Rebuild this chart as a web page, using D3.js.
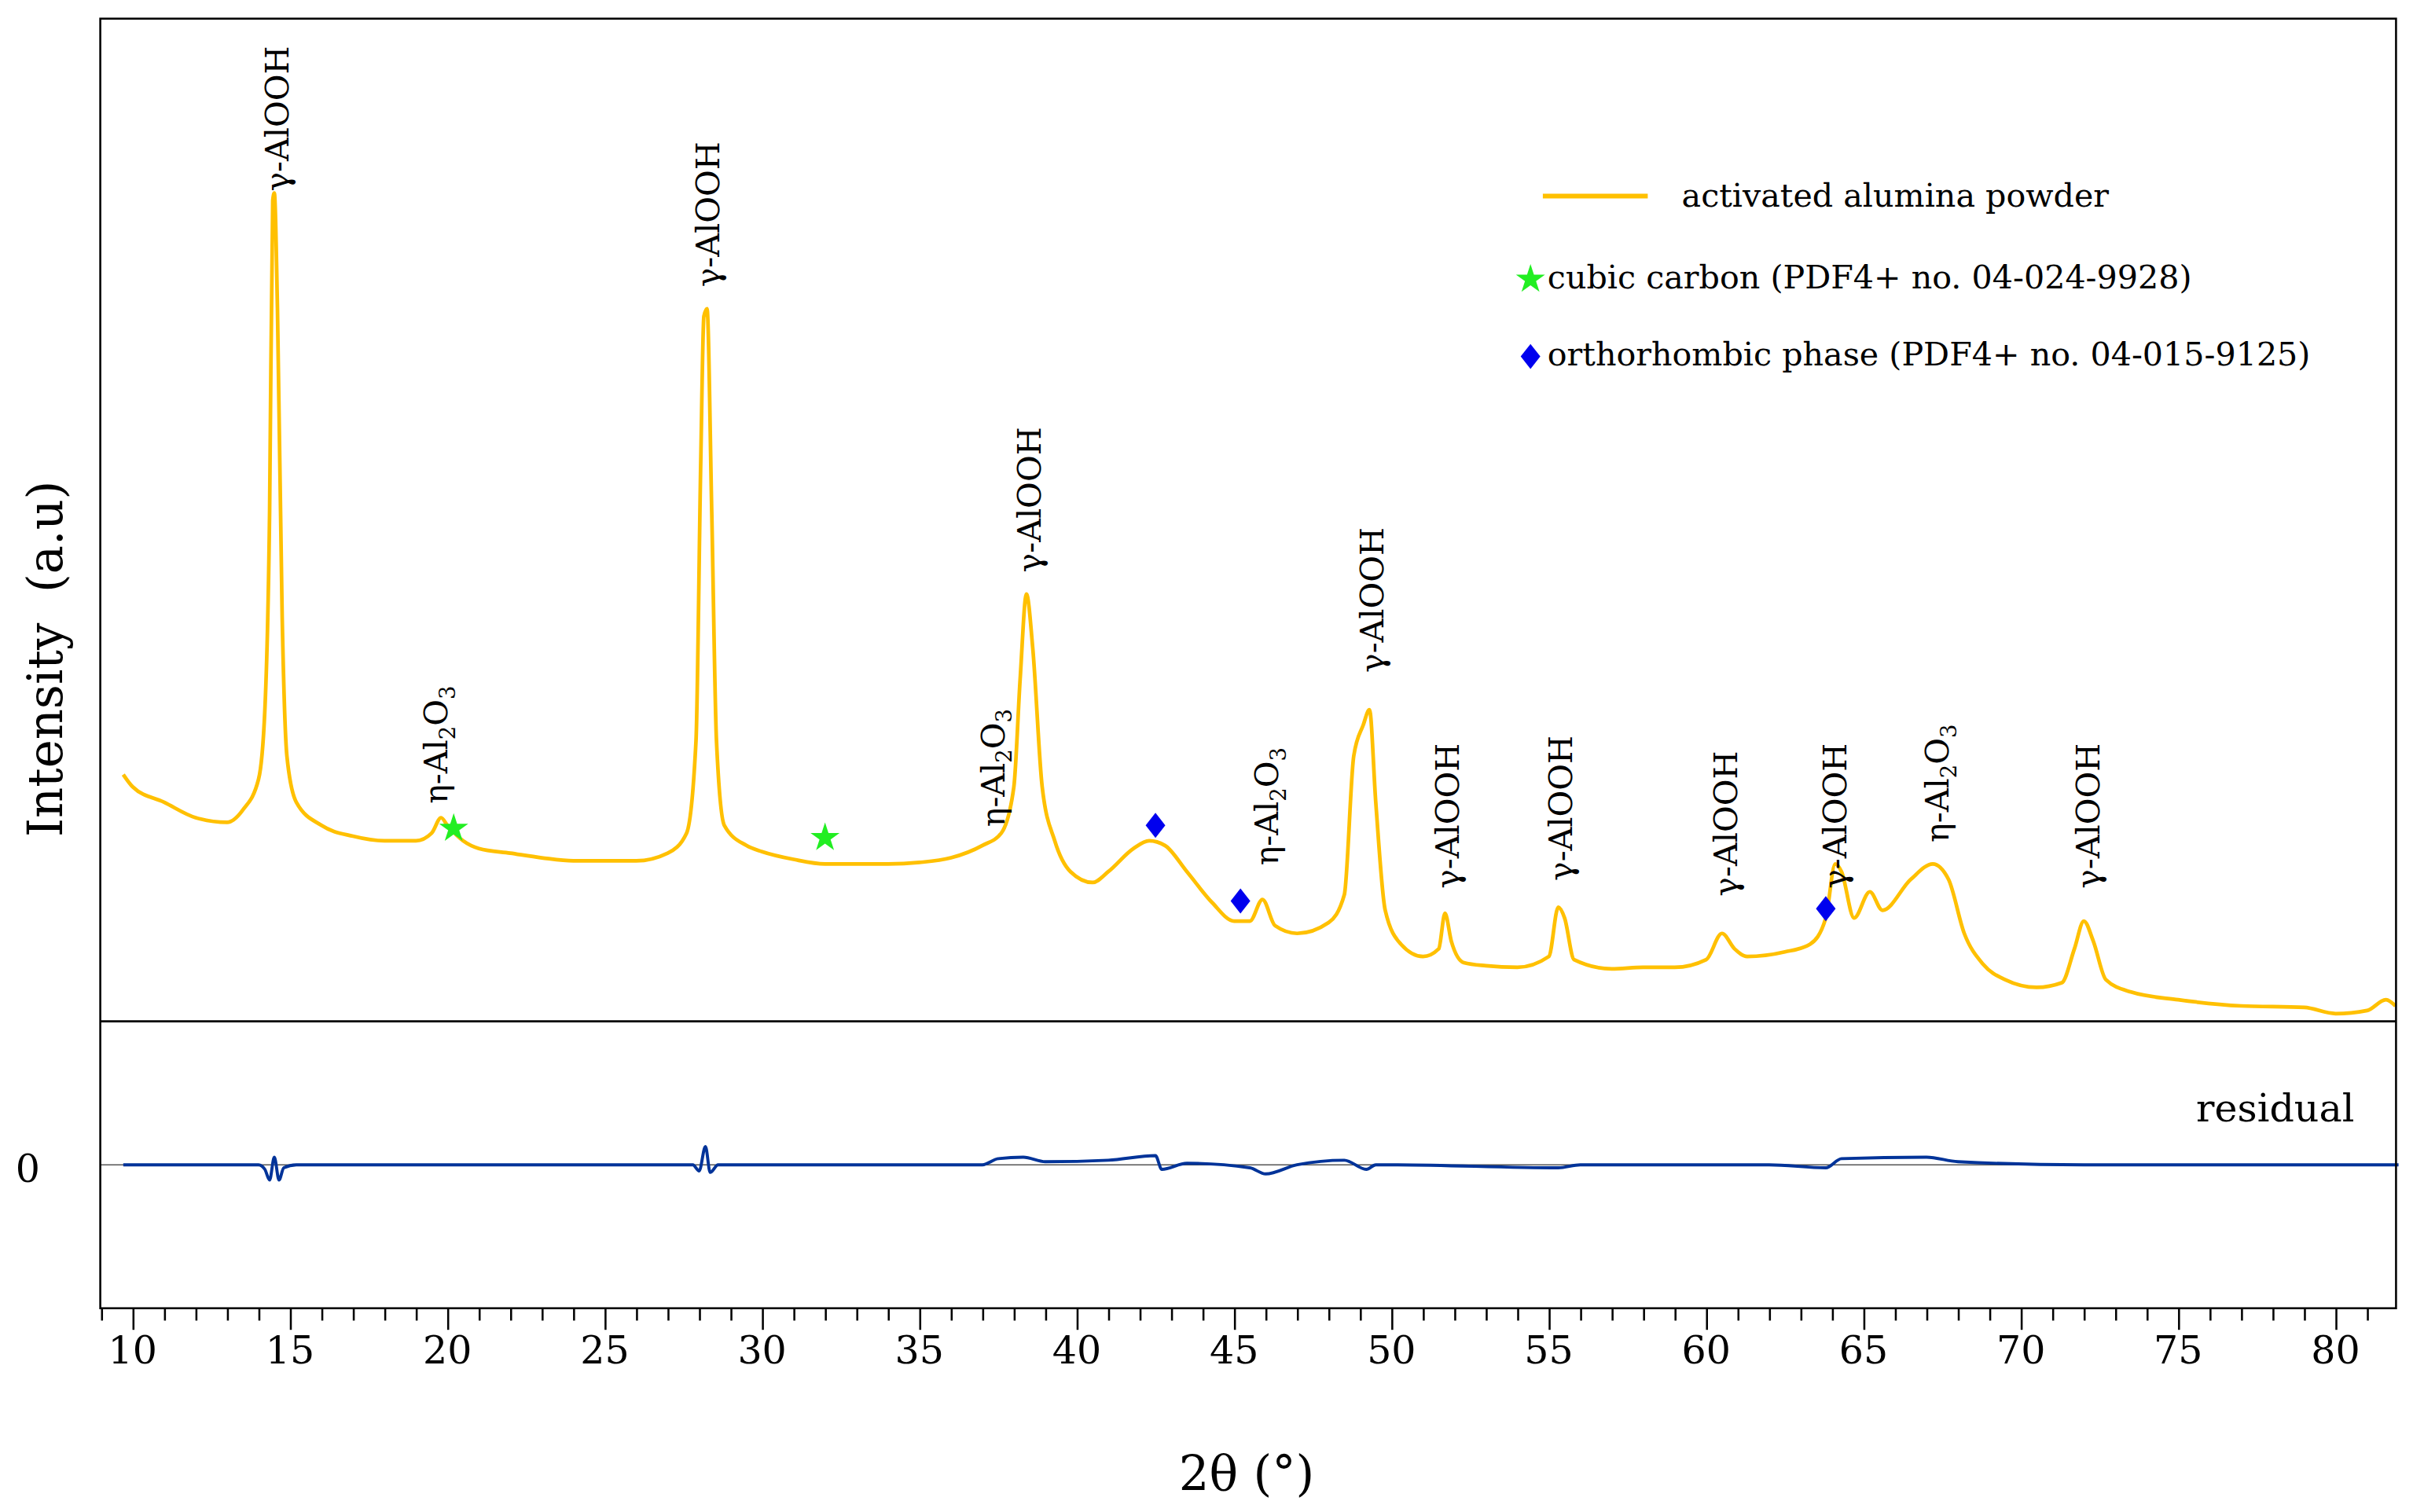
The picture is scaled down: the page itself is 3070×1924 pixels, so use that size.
<!DOCTYPE html>
<html><head><meta charset="utf-8">
<script src="https://cdn.jsdelivr.net/npm/d3@7"></script>
<style>body{margin:0;background:#fff}</style></head>
<body><svg id="c"></svg>
<script>
const theta = [9.7,10,11,12,13,13.5,14,14.2,14.35,14.45,14.5,14.6,14.75,14.9,15.2,16,17,18,19,19.5,19.8,20,20.5,21,22,23,24,25,26,27,27.6,27.9,28.05,28.15,28.25,28.4,28.55,28.8,29.5,30,31,32,33,34,35,36,37,37.6,38,38.2,38.4,38.6,38.9,39.3,39.8,40.5,41,41.8,42.3,42.8,43.5,44.3,45,45.5,45.9,46.3,47,48,48.5,48.8,49.1,49.3,49.5,49.8,50.3,51,51.5,51.7,51.9,52.3,53,54,55,55.3,55.5,55.8,57,58,59,60,60.5,60.9,61.3,62.5,63.3,63.8,64.1,64.3,64.7,65.2,65.6,66.5,67.2,67.7,68.2,68.8,69.5,70.5,71.3,71.7,72,72.3,72.7,73.5,75,77,79,80,81,81.6,81.9];
const intensity = [160,152,142,132,129,137,157,202,330,532,537,462,262,172,142,127,120,117,117,122,132,127,117,112,109,106,104,104,104,109,122,182,362,457,462,330,182,127,114,110,105,102,102,102,103,106,114,122,152,222,277,242,152,117,97,90,97,112,117,114,97,77,65,65,79,62,57,64,82,172,192,202,142,72,50,42,47,70,52,38,36,35,42,74,67,40,34,35,35,40,57,47,42,45,50,67,102,97,67,84,72,92,102,92,57,37,27,22,25,47,65,52,27,19,14,10,9,5,7,14,10];
const resTheta = [9.7,14.0,14.2,14.35,14.5,14.65,14.8,15.2,20,27.8,28.0,28.2,28.35,28.6,37,37.5,38.3,39,41,42.5,42.7,43.5,45.5,46,47,48.5,49.2,49.5,50,55.3,56,62,63.8,64.3,67,68,72,82];
const residual = [0,0,-3,-10,5,-10,-2,0,0,0,-4,12,-5,0,0,4,5,2,3,6,-3,1,-2,-6,0,3,-3,0,0,-2,0,0,-2,4,5,2,0,0];
const starTheta=[20.2,32.0], starI=[125,119];
const diaTheta=[42.5,45.2,63.8], diaI=[127,78,73];
const gLabels=[[14.55,534],[28.25,472],[38.45,287],[49.35,222],[51.75,82],[55.35,87],[60.6,77],[64.05,82],[72.1,82]];
const eLabels=[[19.6,137],[37.3,122],[46.0,97],[67.3,112]];
const xTicks=d3.range(10,81,5);

const svg=d3.select("#c").attr("width",3070).attr("height",1924).attr("viewBox","0 0 1564 980");
const L=65,R=1553,T=12,M=662,B=848;
const x=d3.scaleLinear().domain([8.97,81.92]).range([L,R]);
const y=d3.scaleLinear().domain([0,650]).range([M,T]);
const yr=d3.scaleLinear().domain([-94,94]).range([B,M]);
const font="'DejaVu Serif',serif";

svg.append("line").attr("x1",L).attr("x2",R).attr("y1",yr(0)).attr("y2",yr(0)).attr("stroke","#555").attr("stroke-width",0.8);

svg.append("path").datum(theta.map((t,i)=>[t,intensity[i]]))
 .attr("d",d3.line().x(d=>x(d[0])).y(d=>y(d[1])).curve(d3.curveMonotoneX))
 .attr("fill","none").attr("stroke","#FFC000").attr("stroke-width",2.4);
svg.append("path").datum(resTheta.map((t,i)=>[t,residual[i]]))
 .attr("d",d3.line().x(d=>x(d[0])).y(d=>yr(d[1])).curve(d3.curveMonotoneX))
 .attr("fill","none").attr("stroke","#003399").attr("stroke-width",2);

svg.append("rect").attr("x",L).attr("y",T).attr("width",R-L).attr("height",B-T).attr("fill","none").attr("stroke","#000").attr("stroke-width",1.3);
svg.append("line").attr("x1",L).attr("x2",R).attr("y1",M).attr("y2",M).attr("stroke","#000").attr("stroke-width",1.3);

const ax=svg.append("g").attr("transform",`translate(0,${B})`)
 .call(d3.axisBottom(x).tickValues(d3.range(9,82,1)).tickSize(8).tickFormat(""));
ax.select(".domain").remove();
ax.selectAll("line").attr("stroke","#000").attr("stroke-width",1.3).attr("y2",d=>d%5===0?14:8);
svg.selectAll(".xt").data(xTicks).join("text").attr("x",d=>x(d)).attr("y",884).attr("text-anchor","middle")
 .attr("font-family",font).attr("font-size",25).text(d=>d);
svg.append("text").attr("x",808).attr("y",966).attr("text-anchor","middle").attr("font-family",font).attr("font-size",31).text("2θ (°)");
svg.append("text").attr("transform","translate(40,427) rotate(-90)").attr("text-anchor","middle").attr("font-family",font).attr("font-size",31).attr("xml:space","preserve").text("Intensity  (a.u)");
svg.append("text").attr("x",18).attr("y",766).attr("text-anchor","middle").attr("font-family",font).attr("font-size",25).text("0");
svg.append("text").attr("x",1526).attr("y",727).attr("text-anchor","end").attr("font-family",font).attr("font-size",25).text("residual");

gLabels.forEach(([t,i])=>{
 svg.append("text").attr("transform",`translate(${x(t)+8},${y(i)-4}) rotate(-90)`).attr("font-family",font).attr("font-size",21).text("γ-AlOOH");
});
eLabels.forEach(([t,i])=>{
 const tx=svg.append("text").attr("transform",`translate(${x(t)+8},${y(i)-4}) rotate(-90)`).attr("font-family",font).attr("font-size",21);
 tx.append("tspan").text("η-Al");
 tx.append("tspan").attr("font-size",14).attr("dy",5).text("2");
 tx.append("tspan").attr("dy",-5).text("O");
 tx.append("tspan").attr("font-size",14).attr("dy",5).text("3");
});

const star=d3.symbol().type(d3.symbolStar).size(110);
const dia=d3.symbol().type(d3.symbolSquare).size(100);
const diaT=(px,py)=>`translate(${px},${py}) scale(0.9,1.15) rotate(45)`;
starTheta.forEach((t,i)=>svg.append("path").attr("d",star()).attr("transform",`translate(${x(t)},${y(starI[i])})`).attr("fill","#22EE22"));
diaTheta.forEach((t,i)=>svg.append("path").attr("d",dia()).attr("transform",diaT(x(t),y(diaI[i]))).attr("fill","#0000EE"));

svg.append("line").attr("x1",1000).attr("x2",1068).attr("y1",127).attr("y2",127).attr("stroke","#FFC000").attr("stroke-width",3);
svg.append("text").attr("x",1090).attr("y",134).attr("font-family",font).attr("font-size",21).text("activated alumina powder");
svg.append("path").attr("d",star()).attr("transform","translate(992,181)").attr("fill","#22EE22");
svg.append("text").attr("x",1003).attr("y",187).attr("font-family",font).attr("font-size",21).text("cubic carbon (PDF4+ no. 04-024-9928)");
svg.append("path").attr("d",dia()).attr("transform",diaT(992,231)).attr("fill","#0000EE");
svg.append("text").attr("x",1003).attr("y",237).attr("font-family",font).attr("font-size",21).text("orthorhombic phase (PDF4+ no. 04-015-9125)");
</script></body></html>
